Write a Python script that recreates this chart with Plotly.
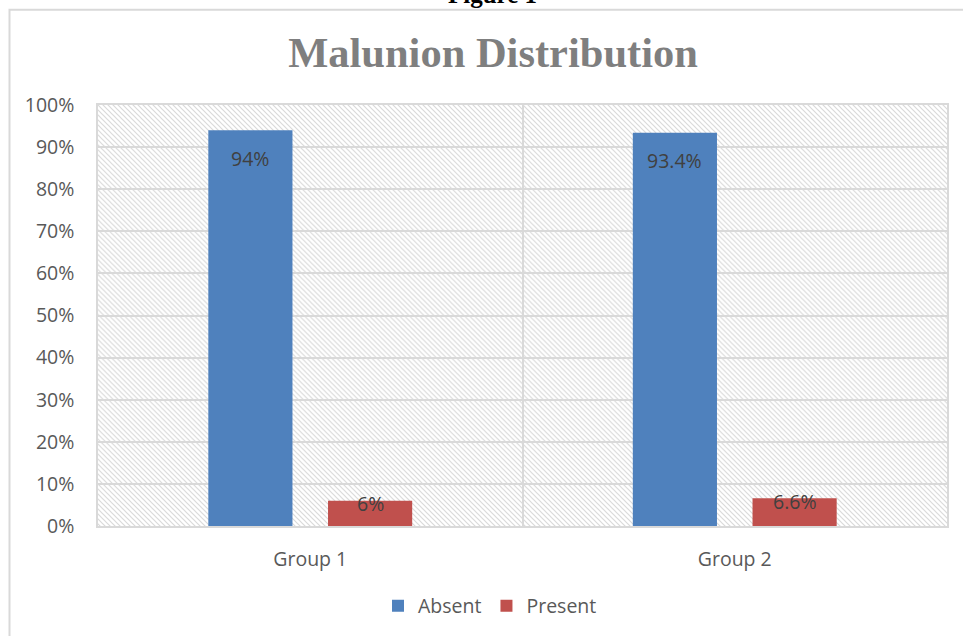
import base64
import plotly.graph_objects as go

# ---- data ----
categories = ["Group 1", "Group 2"]
absent = [94, 93.4]
present = [6, 6.6]
series_names = ["Absent", "Present"]
y_ticks = [0, 10, 20, 30, 40, 50, 60, 70, 80, 90, 100]
title_text = "Malunion Distribution"
caption_text = "Figure 1"

# ---- style ----
W, H = 963, 636
ML, MR, MT, MB = 98, 16, 105, 109
PW, PH = W - ML - MR, H - MT - MB
BARGAP = 0.436
GROUPGAP = 0.297
colors = ["#4F81BD", "#C0504D"]
label_shift = [-28, -3]
FONT = "Open Sans"
FS = 19.5

# hatch background (diagonal lines) as an SVG image the size of the plot area
svg = (
    f'<svg xmlns="http://www.w3.org/2000/svg" width="{PW}" height="{PH}" '
    f'viewBox="0 0 {PW} {PH}" preserveAspectRatio="none">'
    '<defs><pattern id="h" patternUnits="userSpaceOnUse" width="5" height="5">'
    '<path d="M-1,-1 L6,6 M-1,4 L1,6 M4,-1 L6,1" stroke="#d9d9d9" stroke-width="1.2"/>'
    '</pattern></defs>'
    f'<rect width="{PW}" height="{PH}" fill="#ffffff"/>'
    f'<rect width="{PW}" height="{PH}" fill="url(#h)"/></svg>'
)
svg_uri = "data:image/svg+xml;base64," + base64.b64encode(svg.encode()).decode()

fig = go.Figure()
for name, vals, col in zip(series_names, [absent, present], colors):
    fig.add_trace(go.Bar(
        name=name, x=categories, y=vals, marker_color=col,
        marker_line_width=0,
    ))

# data labels near bar tops
slot = (1 - BARGAP) / 2
for k, vals in enumerate([absent, present]):
    off = (k - 0.5) * slot
    for j, v in enumerate(vals):
        fig.add_annotation(
            x=j + off, y=v, xref="x", yref="y", text=f"{v:g}%",
            showarrow=False, yanchor="middle", yshift=label_shift[k],
            font=dict(family=FONT, size=FS, color="#404040"),
        )

# caption at very top (partially cut off, as in the source)
fig.add_annotation(
    x=(492 - ML) / PW, y=(H - MB - 10) / PH, xref="paper", yref="paper",
    text=f"<b>{caption_text}</b>", showarrow=False, xanchor="center", yanchor="bottom",
    font=dict(family="Liberation Serif", size=25, color="#000000"),
)

# outer chart border
fig.add_shape(
    type="rect", xref="paper", yref="paper",
    x0=(9.5 - ML) / PW, x1=(W + 20 - ML) / PW,
    y0=(H - MB - (H + 20)) / PH, y1=(H - MB - 9.5) / PH,
    line=dict(color="#d9d9d9", width=2), fillcolor="rgba(0,0,0,0)", layer="below",
)

fig.add_layout_image(
    source=svg_uri, xref="paper", yref="paper", x=0, y=1, sizex=1, sizey=1,
    xanchor="left", yanchor="top", sizing="stretch", layer="below",
)

fig.update_layout(
    width=W, height=H,
    margin=dict(l=ML, r=MR, t=MT, b=MB),
    paper_bgcolor="#ffffff", plot_bgcolor="rgba(0,0,0,0)",
    barmode="group", bargap=BARGAP, bargroupgap=GROUPGAP,
    title=dict(
        text=f"<b>{title_text}</b>", x=493 / W, xanchor="center",
        y=1 - 52 / H, yanchor="middle", xref="container", yref="container",
        font=dict(family="Liberation Serif", size=42.5, color="#7f7f7f"),
    ),
    legend=dict(
        orientation="h", x=(490 - ML) / PW, xanchor="center",
        y=(H - MB - 606) / PH, yanchor="middle",
        font=dict(family=FONT, size=FS, color="#595959"),
        itemwidth=30, traceorder="normal",
    ),
    showlegend=True,
)

fig.update_xaxes(
    type="category", tickson="boundaries", showgrid=True,
    gridcolor="#d9d9d9", gridwidth=1.5,
    showline=True, linecolor="#d9d9d9", linewidth=1.5, mirror=True,
    ticks="", ticklabelstandoff=15,
    tickfont=dict(family=FONT, size=FS, color="#595959"),
)
fig.update_yaxes(
    range=[0, 100], tickvals=y_ticks, ticktext=[f"{t}%" for t in y_ticks],
    showgrid=True, gridcolor="#d9d9d9", gridwidth=1.5,
    showline=True, linecolor="#d9d9d9", linewidth=1.5, mirror=True,
    zeroline=False, ticks="", ticklabelstandoff=18,
    tickfont=dict(family=FONT, size=FS, color="#595959"),
)

fig.write_html(
    "out.html",
    config={"displayModeBar": False},
    post_script="document.body.style.margin='0';document.body.style.overflow='hidden';",
)
